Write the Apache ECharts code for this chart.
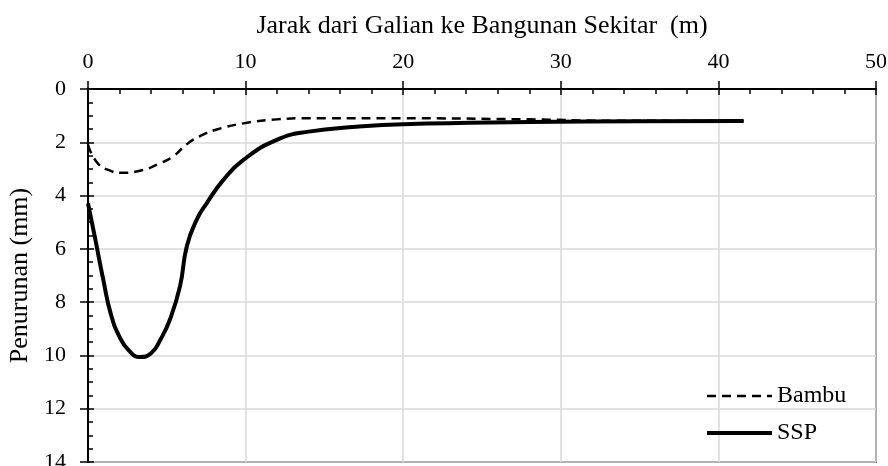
<!DOCTYPE html>
<html>
<head>
<meta charset="utf-8">
<script src="https://cdn.jsdelivr.net/npm/echarts@6/dist/echarts.min.js"></script>
<style>
  html, body { margin: 0; padding: 0; background: #fff; }
  #chart { width: 888px; height: 466px; }
</style>
</head>
<body>
<div id="chart"></div>
<script>
var xTitle = 'Jarak dari Galian ke Bangunan Sekitar  (m)';
var yTitle = 'Penurunan (mm)';
var seriesNames = ['Bambu', 'SSP'];

// Bambu (dashed)
var bambuX = [0, 0.5, 1.2, 2.24, 3.3, 4.57, 5.42, 6.27, 7.11, 8.17, 9.86, 11.98, 14, 20, 28, 33, 41.6];
var bambuY = [2.1, 2.7, 3.02, 3.14, 3.07, 2.79, 2.52, 2.07, 1.77, 1.52, 1.29, 1.14, 1.1, 1.1, 1.14, 1.19, 1.2];

// SSP (solid)
var sspX = [0, 0.45, 0.97, 1.45, 2.0, 2.6, 3.3, 4.0, 4.6, 5.2, 5.84, 6.27, 6.9, 7.54, 8.59, 9.86, 11.98, 14, 17, 20, 28, 35, 41.6];
var sspY = [4.29, 5.6, 7.16, 8.45, 9.3, 9.82, 10.06, 9.92, 9.4, 8.65, 7.4, 5.9, 4.9, 4.28, 3.41, 2.66, 1.91, 1.6, 1.42, 1.32, 1.24, 1.21, 1.2];

function pairs(xs, ys) {
  var out = [];
  for (var i = 0; i < xs.length; i++) out.push([xs[i], ys[i]]);
  return out;
}

var font = 'Liberation Serif, Times New Roman, serif';
var nameTxt = { color: '#000', fontFamily: font, fontSize: 26 };

var chart = echarts.init(document.getElementById('chart'));
var option = {
  animation: false,
  textStyle: { fontFamily: font },
  grid: {
    left: 88, right: 12, top: 89, bottom: 4,
    show: true, borderColor: '#000', borderWidth: 1.5,
    containLabel: false, outerBoundsMode: 'none'
  },
  legend: {
    orient: 'vertical',
    left: 700, top: 379,
    itemWidth: 65, itemHeight: 14, itemGap: 13,
    textStyle: { color: '#000', fontFamily: font, fontSize: 24 },
    itemStyle: { opacity: 0 },
    data: [
      { name: seriesNames[0], lineStyle: { color: '#000', width: 2.5, type: [9, 6] } },
      { name: seriesNames[1], lineStyle: { color: '#000', width: 4 } }
    ]
  },
  xAxis: [
    {
      type: 'value', position: 'top', min: 0, max: 50, interval: 10,
      name: xTitle, nameLocation: 'middle', nameGap: 50, nameTextStyle: nameTxt,
      axisLine: { show: true, lineStyle: { color: '#000', width: 2 } },
      axisTick: { show: true, inside: true, length: 6, lineStyle: { color: '#000', width: 1.5 } },
      minorTick: { show: true, splitNumber: 5, length: 5, lineStyle: { color: '#000', width: 1.5 } },
      splitLine: { show: true, lineStyle: { color: '#d9d9d9', width: 1.5 } },
      axisLabel: { margin: 16, color: '#000', fontFamily: font, fontSize: 22 }
    },
    {
      type: 'value', position: 'top', offset: 0, min: 0, max: 50, interval: 10,
      axisLine: { show: false },
      axisTick: { show: true, inside: false, length: 8, lineStyle: { color: '#000', width: 1.5 } },
      splitLine: { show: false },
      axisLabel: { show: false }
    }
  ],
  yAxis: [
    {
      type: 'value', position: 'left', inverse: true, min: 0, max: 14, interval: 2,
      name: yTitle, nameLocation: 'middle', nameGap: 52, nameTextStyle: nameTxt,
      axisLine: { show: true, lineStyle: { color: '#000', width: 2 } },
      axisTick: { show: true, inside: true, length: 6, lineStyle: { color: '#000', width: 1.5 } },
      minorTick: { show: true, splitNumber: 4, length: 5, lineStyle: { color: '#000', width: 1.5 } },
      splitLine: { show: true, lineStyle: { color: '#d9d9d9', width: 1.5 } },
      axisLabel: { margin: 22, color: '#000', fontFamily: font, fontSize: 22 }
    },
    {
      type: 'value', position: 'left', offset: 0, inverse: true, min: 0, max: 14, interval: 2,
      axisLine: { show: false },
      axisTick: { show: true, inside: false, length: 8, lineStyle: { color: '#000', width: 1.5 } },
      splitLine: { show: false },
      axisLabel: { show: false }
    }
  ],
  series: [
    {
      name: seriesNames[0], type: 'line', symbol: 'none', smooth: 0.5,
      color: '#000',
      lineStyle: { color: '#000', width: 2.5, type: [9, 6] },
      data: pairs(bambuX, bambuY)
    },
    {
      name: seriesNames[1], type: 'line', symbol: 'none', smooth: 0.5,
      color: '#000',
      lineStyle: { color: '#000', width: 4 },
      data: pairs(sspX, sspY)
    }
  ]
};
chart.setOption(option);
</script>
</body>
</html>
